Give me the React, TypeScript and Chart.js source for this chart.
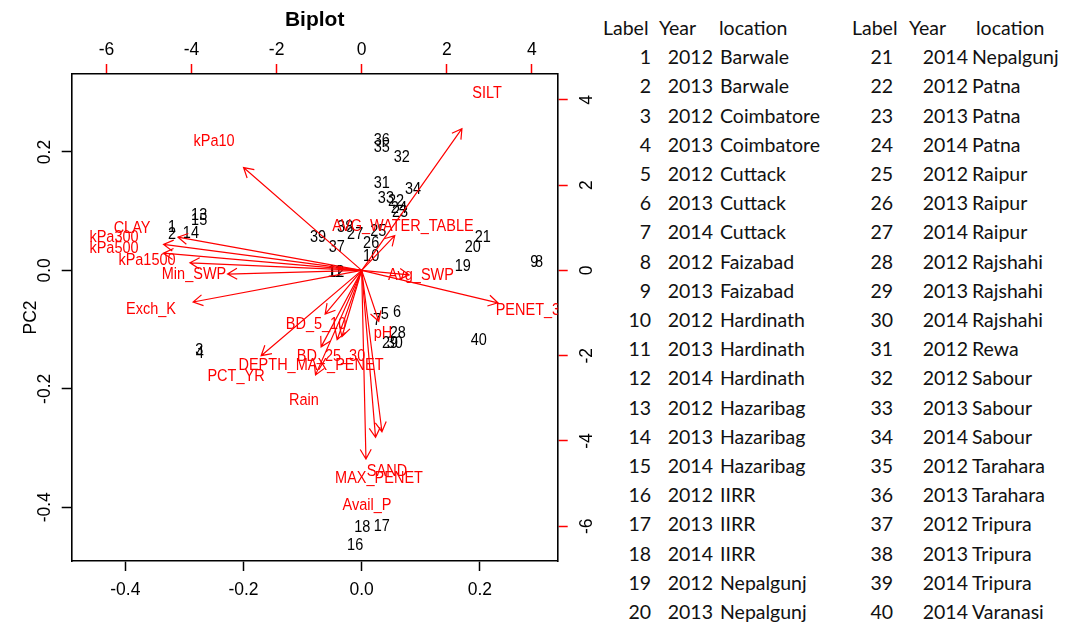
import React, { useEffect, useRef } from "react";
import { Chart, registerables } from "chart.js";

Chart.register(...registerables);

// ---------------- Data ----------------
// Site scores (PC1, PC2) – plotted as their label numbers
const SITE_IDS = [
  "1", "2", "3", "4", "5", "6", "7", "8", "9", "10",
  "11", "12", "13", "14", "15", "16", "17", "18", "19", "20",
  "21", "22", "23", "24", "25", "26", "27", "28", "29", "30",
  "31", "32", "33", "34", "35", "36", "37", "38", "39", "40",
];
const PC1_SCORES = [
  -0.321, -0.321, -0.275, -0.274, 0.039, 0.06, 0.026, 0.3, 0.292, 0.016,
  -0.045, -0.043, -0.275, -0.289, -0.275, -0.011, 0.034, 0.001, 0.171, 0.188,
  0.205, 0.058, 0.065, 0.063, 0.028, 0.016, -0.011, 0.061, 0.048, 0.056,
  0.034, 0.068, 0.041, 0.087, 0.034, 0.034, -0.042, -0.028, -0.074, 0.198,
];
const PC2_SCORES = [
  0.073, 0.06, -0.135, -0.141, -0.075, -0.072, -0.084, 0.014, 0.014, 0.023,
  -0.004, -0.004, 0.092, 0.063, 0.084, -0.464, -0.433, -0.435, 0.006, 0.038,
  0.055, 0.117, 0.097, 0.104, 0.065, 0.046, 0.06, -0.106, -0.123, -0.123,
  0.146, 0.19, 0.121, 0.136, 0.207, 0.22, 0.038, 0.072, 0.055, -0.119,
];

// Variable loadings (secondary axes) – label drawn at the loading, arrow to 0.8 x loading
const VARIABLES = [
  "SILT", "kPa10", "CLAY", "kPa300", "kPa500", "kPa1500", "Min_SWP", "Exch_K",
  "AVG_WATER_TABLE", "Avg_SWP", "PENET_30", "pH", "BD_5_10", "BD_25_30", "",
  "DEPTH_MAX_PENET", "PCT_YR", "Rain", "SAND", "MAX_PENET", "Avail_P",
];
const LOADING_1 = [
  2.945, -3.471, -5.398, -5.821, -5.821, -5.046, -3.941, -4.952,
  0.971, 1.394, 4.002, 0.501, -1.074, -0.722, -0.58,
  -1.192, -2.954, -1.356, 0.595, 0.407, 0.125,
];
const LOADING_2 = [
  4.155, 3.016, 0.974, 0.763, 0.505, 0.223, -0.106, -0.927,
  1.021, -0.129, -0.951, -1.491, -1.279, -2.031, -1.937,
  -2.242, -2.5, -3.063, -4.73, -4.894, -5.528,
];
const ARROW_SHRINK = 0.8;

// Axis ranges and ticks
const PRIMARY_LIM = [-0.4907, 0.3317];
const SECONDARY_LIM = [-6.816, 4.607];
const X_TICKS = [-0.4, -0.2, 0, 0.2];
const Y_TICKS = [-0.4, -0.2, 0, 0.2];
const X2_TICKS = [-6, -4, -2, 0, 2, 4];
const Y2_TICKS = [-6, -4, -2, 0, 2, 4];

// Legend table
const TABLE_HEADERS = ["Label", "Year", "location"];
const YEARS = [
  2012, 2013, 2012, 2013, 2012, 2013, 2014, 2012, 2013, 2012,
  2013, 2014, 2012, 2013, 2014, 2012, 2013, 2014, 2012, 2013,
  2014, 2012, 2013, 2014, 2012, 2013, 2014, 2012, 2013, 2014,
  2012, 2012, 2013, 2014, 2012, 2013, 2012, 2013, 2014, 2014,
];
const LOCATIONS = [
  "Barwale", "Barwale", "Coimbatore", "Coimbatore", "Cuttack", "Cuttack", "Cuttack",
  "Faizabad", "Faizabad", "Hardinath", "Hardinath", "Hardinath", "Hazaribag", "Hazaribag",
  "Hazaribag", "IIRR", "IIRR", "IIRR", "Nepalgunj", "Nepalgunj", "Nepalgunj", "Patna",
  "Patna", "Patna", "Raipur", "Raipur", "Raipur", "Rajshahi", "Rajshahi", "Rajshahi",
  "Rewa", "Sabour", "Sabour", "Sabour", "Tarahara", "Tarahara", "Tripura", "Tripura",
  "Tripura", "Varanasi",
];

// ---------------- Styling ----------------
const FONT = '"Liberation Sans", Arial, Helvetica, sans-serif';
const RED = "#ff0000";
const CANVAS_W = 600;
const CANVAS_H = 626;
const TEXT_STRETCH = 1.1;

const biplotPlugin = {
  id: "biplotMarks",
  afterDatasetsDraw(chart: any) {
    const { ctx, chartArea: a } = chart;
    ctx.save();
    ctx.beginPath();
    ctx.rect(a.left, a.top, a.right - a.left, a.bottom - a.top);
    ctx.clip();

    ctx.font = `14.5px ${FONT}`;
    ctx.textAlign = "center";
    ctx.textBaseline = "middle";

    const label = (t: string, x: number, y: number) => {
      ctx.save();
      ctx.translate(x, y);
      ctx.scale(1, TEXT_STRETCH);
      ctx.fillText(t, 0, 0);
      ctx.restore();
    };

    // site numbers
    const m0 = chart.getDatasetMeta(0);
    ctx.fillStyle = "#000";
    m0.data.forEach((el: any, i: number) => label(SITE_IDS[i], el.x, el.y));

    // variable labels
    const m1 = chart.getDatasetMeta(1);
    ctx.fillStyle = RED;
    m1.data.forEach((el: any, i: number) => {
      if (VARIABLES[i]) label(VARIABLES[i], el.x, el.y);
    });

    // arrows
    const sx = chart.scales.x2;
    const sy = chart.scales.y2;
    const ox = sx.getPixelForValue(0);
    const oy = sy.getPixelForValue(0);
    ctx.strokeStyle = RED;
    ctx.lineWidth = 1.2;
    const head = 11;
    const ang = Math.PI / 6;
    LOADING_1.forEach((lx, i) => {
      const tx = sx.getPixelForValue(lx * ARROW_SHRINK);
      const ty = sy.getPixelForValue(LOADING_2[i] * ARROW_SHRINK);
      const th = Math.atan2(ty - oy, tx - ox);
      ctx.beginPath();
      ctx.moveTo(ox, oy);
      ctx.lineTo(tx, ty);
      ctx.moveTo(tx - head * Math.cos(th - ang), ty - head * Math.sin(th - ang));
      ctx.lineTo(tx, ty);
      ctx.lineTo(tx - head * Math.cos(th + ang), ty - head * Math.sin(th + ang));
      ctx.stroke();
    });
    ctx.restore();
  },
};

function axis(
  position: string,
  lim: number[],
  ticks: number[],
  tickColor: string,
  fmt: (v: number) => string,
  size: number,
  padding: number,
  rotation: number,
  crossAlign: string,
  extra: any = {}
) {
  return {
    type: "linear",
    position,
    min: lim[0],
    max: lim[1],
    afterBuildTicks: (s: any) => {
      s.ticks = ticks.map((v) => ({ value: v }));
    },
    afterFit: (s: any) => {
      if (s.isHorizontal()) s.height = size;
      else s.width = size;
    },
    border: { display: true, color: "#000", width: 1.6 },
    grid: {
      display: true,
      drawOnChartArea: false,
      drawTicks: true,
      tickLength: 10,
      tickWidth: 1.5,
      tickColor,
      color: tickColor,
    },
    ticks: {
      display: true,
      color: "#000",
      font: { family: FONT, size: 17.5 },
      padding,
      minRotation: rotation,
      maxRotation: rotation,
      crossAlign,
      autoSkip: false,
      callback: (v: any) => fmt(Number(v)),
    },
    ...extra,
  };
}

function BiplotChart() {
  const ref = useRef<HTMLCanvasElement | null>(null);
  useEffect(() => {
    if (!ref.current) return;
    const fmt1 = (v: number) => v.toFixed(1);
    const fmt0 = (v: number) => String(Math.round(v));
    const chart = new Chart(ref.current, {
      type: "scatter",
      data: {
        datasets: [
          {
            label: "sites",
            data: PC1_SCORES.map((x, i) => ({ x, y: PC2_SCORES[i] })),
            xAxisID: "x",
            yAxisID: "y",
            pointRadius: 0,
            pointHoverRadius: 0,
          },
          {
            label: "variables",
            data: LOADING_1.map((x, i) => ({ x, y: LOADING_2[i] })),
            xAxisID: "x2",
            yAxisID: "y2",
            pointRadius: 0,
            pointHoverRadius: 0,
          },
        ],
      },
      options: {
        animation: false,
        responsive: false,
        events: [],
        layout: { padding: 0 },
        plugins: {
          legend: { display: false },
          tooltip: { enabled: false },
          title: {
            display: true,
            text: "Biplot",
            fullSize: false,
            color: "#000",
            font: { family: FONT, size: 21, weight: "bold", lineHeight: 1.2 },
            padding: { top: 8, bottom: 0 },
          },
        },
        scales: {
          x: axis("bottom", PRIMARY_LIM, X_TICKS, "#000", fmt1, 65, 8.5, 0, "near"),
          y: axis("left", PRIMARY_LIM, Y_TICKS, "#000", fmt1, 71.7, 1, 90, "center", {
            title: {
              display: true,
              text: "PC2",
              color: "#000",
              font: { family: FONT, size: 17.5 },
              padding: { top: 21, bottom: 0 },
            },
          }),
          x2: axis("top", SECONDARY_LIM, X2_TICKS, RED, fmt0, 40.8, 3.5, 0, "near"),
          y2: axis("right", SECONDARY_LIM, Y2_TICKS, RED, fmt0, CANVAS_W - 557.7, 11.5, 90, "center"),
        },
      } as any,
      plugins: [biplotPlugin as any],
    });
    return () => chart.destroy();
  }, []);
  return (
    <canvas
      ref={ref}
      width={CANVAS_W}
      height={CANVAS_H}
      style={{ position: "absolute", left: 0, top: 0, width: CANVAS_W, height: CANVAS_H }}
    />
  );
}

const TABLE_FONT = 'Lato, "Open Sans", sans-serif';
const TABLE_SIZE = 19.5;
const COLS = [
  { start: 0, labelRight: 651, yearRight: 713, locLeft: 720, hdr: [603, 659, 719] },
  { start: 20, labelRight: 893, yearRight: 968, locLeft: 972, hdr: [852, 909, 976] },
];
const ROW_H = 29.2;
const FIRST_ROW_Y = 57.5;
const HEADER_Y = 28;

function Cell(props: { x: number; y: number; text: string; right?: boolean }) {
  const style: React.CSSProperties = {
    position: "absolute",
    top: props.y - 0.627 * TABLE_SIZE,
    lineHeight: `${1.2 * TABLE_SIZE}px`,
    fontSize: TABLE_SIZE,
    fontFamily: TABLE_FONT,
    color: "#111",
    whiteSpace: "nowrap",
  };
  if (props.right) style.right = 1076 - props.x;
  else style.left = props.x;
  return <div style={style}>{props.text}</div>;
}

function SiteTable() {
  const cells: React.ReactNode[] = [];
  COLS.forEach((c, ci) => {
    TABLE_HEADERS.forEach((h, hi) => {
      cells.push(<Cell key={`h${ci}-${hi}`} x={c.hdr[hi]} y={HEADER_Y} text={h} />);
    });
    for (let r = 0; r < 20; r++) {
      const idx = c.start + r;
      const y = FIRST_ROW_Y + r * ROW_H;
      cells.push(<Cell key={`l${idx}`} x={c.labelRight} y={y} text={SITE_IDS[idx]} right />);
      cells.push(<Cell key={`y${idx}`} x={c.yearRight} y={y} text={String(YEARS[idx])} right />);
      cells.push(<Cell key={`c${idx}`} x={c.locLeft} y={y} text={LOCATIONS[idx]} />);
    }
  });
  return <>{cells}</>;
}

export default function App() {
  return (
    <div
      style={{
        position: "absolute",
        left: 0,
        top: 0,
        width: 1076,
        height: 626,
        background: "#fff",
        overflow: "hidden",
      }}
    >
      <BiplotChart />
      <SiteTable />
    </div>
  );
}
